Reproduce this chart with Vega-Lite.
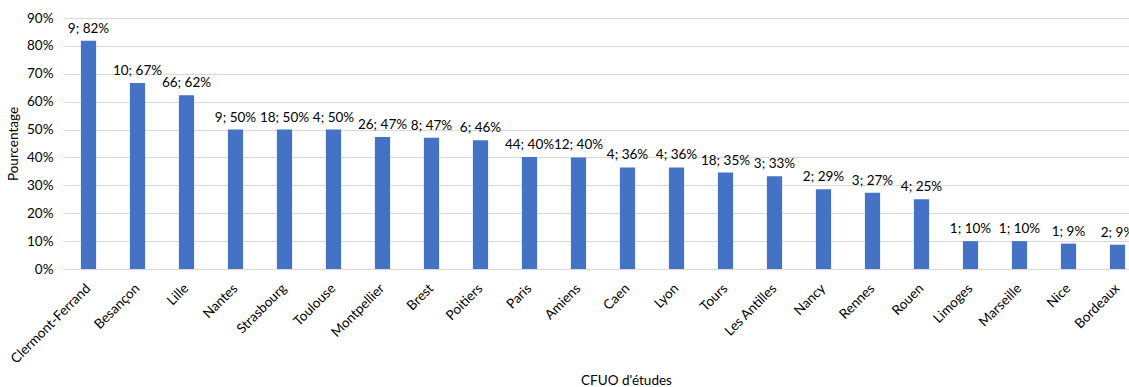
{
  "$schema": "https://vega.github.io/schema/vega-lite/v6.json",
  "autosize": {"type": "none"},
  "width": 1078,
  "height": 251,
  "padding": {"left": 64, "top": 18, "right": 0, "bottom": 118},
  "background": "white",
  "config": {
    "font": "Lato",
    "view": {"stroke": null},
    "axis": {"labelFont": "Lato", "titleFont": "Lato", "labelColor": "#000000", "titleColor": "#000000", "titleFontWeight": "normal"}
  },
  "data": {
    "values": [
      {"cfuo": "Clermont-Ferrand", "pct": 0.818, "label": "9; 82%"},
      {"cfuo": "Besançon", "pct": 0.667, "label": "10; 67%"},
      {"cfuo": "Lille", "pct": 0.623, "label": "66; 62%"},
      {"cfuo": "Nantes", "pct": 0.5, "label": "9; 50%"},
      {"cfuo": "Strasbourg", "pct": 0.5, "label": "18; 50%"},
      {"cfuo": "Toulouse", "pct": 0.5, "label": "4; 50%"},
      {"cfuo": "Montpellier", "pct": 0.473, "label": "26; 47%"},
      {"cfuo": "Brest", "pct": 0.471, "label": "8; 47%"},
      {"cfuo": "Poitiers", "pct": 0.462, "label": "6; 46%"},
      {"cfuo": "Paris", "pct": 0.402, "label": "44; 40%"},
      {"cfuo": "Amiens", "pct": 0.4, "label": "12; 40%"},
      {"cfuo": "Caen", "pct": 0.364, "label": "4; 36%"},
      {"cfuo": "Lyon", "pct": 0.364, "label": "4; 36%"},
      {"cfuo": "Tours", "pct": 0.346, "label": "18; 35%"},
      {"cfuo": "Les Antilles", "pct": 0.333, "label": "3; 33%"},
      {"cfuo": "Nancy", "pct": 0.286, "label": "2; 29%"},
      {"cfuo": "Rennes", "pct": 0.273, "label": "3; 27%"},
      {"cfuo": "Rouen", "pct": 0.25, "label": "4; 25%"},
      {"cfuo": "Limoges", "pct": 0.1, "label": "1; 10%"},
      {"cfuo": "Marseille", "pct": 0.1, "label": "1; 10%"},
      {"cfuo": "Nice", "pct": 0.091, "label": "1; 9%"},
      {"cfuo": "Bordeaux", "pct": 0.087, "label": "2; 9%"}
    ]
  },
  "encoding": {
    "x": {
      "field": "cfuo", "type": "nominal", "sort": null,
      "scale": {"paddingInner": 0.69, "paddingOuter": 0.345},
      "axis": {
        "title": "CFUO d'études", "titleFontSize": 13.5,
        "titleX": 562, "titleY": 115, "titleAlign": "center", "titleBaseline": "alphabetic",
        "labelAngle": -45, "labelFontSize": 13.5, "labelPadding": 12, "labelOffset": -5,
        "ticks": false, "domain": false, "grid": false
      }
    },
    "y": {
      "field": "pct", "type": "quantitative",
      "scale": {"domain": [0, 0.9], "nice": false},
      "axis": {
        "title": "Pourcentage", "titleFontSize": 13.5, "titlePadding": 6,
        "format": ".0%", "values": [0, 0.1, 0.2, 0.3, 0.4, 0.5, 0.6, 0.7, 0.8, 0.9],
        "labelFontSize": 13.5, "labelPadding": 11,
        "ticks": false, "domain": false,
        "grid": true, "gridColor": "#d9d9d9", "gridWidth": 1
      }
    }
  },
  "layer": [
    {"mark": {"type": "bar", "color": "#4472C4"}},
    {
      "mark": {"type": "text", "baseline": "bottom", "dy": -5, "fontSize": 13.5, "color": "#000000", "font": "Lato"},
      "encoding": {"text": {"field": "label"}}
    }
  ]
}
